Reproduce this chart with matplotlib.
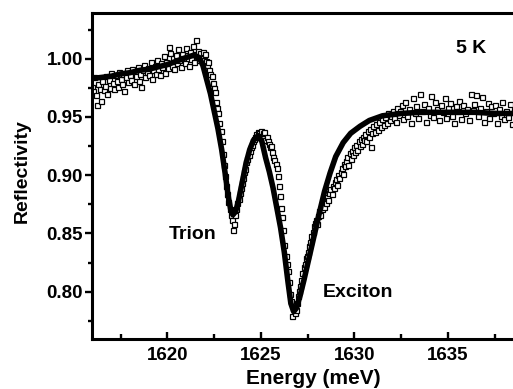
#!/usr/bin/env python3
import numpy as np
import matplotlib
matplotlib.use("Agg")
import matplotlib.pyplot as plt
from matplotlib.ticker import MultipleLocator, FormatStrFormatter

plt.rcParams['font.family'] = ['Liberation Sans', 'DejaVu Sans']
plt.rcParams['font.weight'] = 'bold'

# fitted curve
fit_energy = [
    1615.95, 1616.5, 1617.0, 1617.5, 1618.0, 1618.5, 1619.0, 1619.5, 1620.0, 1620.5,
    1621.0, 1621.4, 1621.7, 1621.9, 1622.1, 1622.3, 1622.5, 1622.7, 1622.9, 1623.1,
    1623.25, 1623.4, 1623.5, 1623.65, 1623.8, 1624.0, 1624.2, 1624.4, 1624.6, 1624.85,
    1625.05, 1625.25, 1625.45, 1625.65, 1625.85, 1626.05, 1626.25, 1626.45, 1626.6, 1626.75,
    1626.9, 1627.1, 1627.3, 1627.5, 1627.8, 1628.1, 1628.4, 1628.7, 1629.0, 1629.4,
    1629.8, 1630.3, 1630.8, 1631.5, 1632.5, 1633.5, 1634.5, 1635.5, 1636.5, 1637.5,
    1638.6, 1639.5,
]
fit_refl = [
    0.983, 0.984, 0.985, 0.987, 0.988, 0.990, 0.991, 0.993, 0.995, 0.998,
    1.001, 1.003, 1.001, 0.994, 0.982, 0.970, 0.955, 0.940, 0.922, 0.900,
    0.882, 0.869, 0.866, 0.869, 0.878, 0.894, 0.910, 0.922, 0.930, 0.934,
    0.929, 0.915, 0.903, 0.889, 0.872, 0.855, 0.834, 0.808, 0.790, 0.783,
    0.786, 0.797, 0.810, 0.824, 0.845, 0.866, 0.886, 0.902, 0.916, 0.928,
    0.936, 0.942, 0.947, 0.951, 0.953, 0.954, 0.954, 0.954, 0.954, 0.953,
    0.953, 0.953,
]

# measured points (open squares)
energy_data = [
    # flat part below the trion
    1615.95, 1616.02, 1616.09, 1616.16, 1616.23, 1616.30, 1616.37, 1616.44, 1616.51, 1616.58,
    1616.65, 1616.72, 1616.79, 1616.86, 1616.93, 1617.00, 1617.07, 1617.14, 1617.21, 1617.28,
    1617.35, 1617.42, 1617.49, 1617.56, 1617.63, 1617.70, 1617.77, 1617.84, 1617.91, 1617.98,
    1618.05, 1618.12, 1618.19, 1618.26, 1618.33, 1618.40, 1618.47, 1618.54, 1618.61, 1618.68,
    1618.75, 1618.82, 1618.89, 1618.96, 1619.03, 1619.10, 1619.17, 1619.24, 1619.31, 1619.38,
    1619.45, 1619.52, 1619.59, 1619.66, 1619.73, 1619.80, 1619.87, 1619.94, 1620.01, 1620.08,
    1620.15, 1620.22, 1620.29, 1620.36, 1620.43, 1620.50, 1620.57, 1620.64, 1620.71, 1620.78,
    1620.85, 1620.92, 1620.99, 1621.06, 1621.13, 1621.20, 1621.27, 1621.34, 1621.41, 1621.48,
    # trion dip, falling side
    1621.52, 1621.58, 1621.64, 1621.70, 1621.76, 1621.82, 1621.88, 1621.94, 1622.00, 1622.06,
    1622.12, 1622.18, 1622.24, 1622.30, 1622.36, 1622.42, 1622.48, 1622.54, 1622.60, 1622.66,
    1622.72, 1622.78, 1622.84, 1622.90, 1622.96, 1623.02, 1623.08, 1623.14, 1623.20, 1623.26,
    1623.32, 1623.38, 1623.44, 1623.50,
    # trion, rising side
    1623.56, 1623.62, 1623.68, 1623.74, 1623.80, 1623.86, 1623.92, 1623.98, 1624.04, 1624.10,
    1624.16, 1624.22, 1624.28, 1624.34, 1624.40, 1624.46, 1624.52, 1624.58, 1624.64, 1624.70,
    1624.76, 1624.82, 1624.88,
    # exciton, falling side
    1624.94, 1625.00, 1625.06, 1625.12, 1625.18, 1625.24, 1625.30, 1625.36, 1625.42, 1625.48,
    1625.54, 1625.60, 1625.66, 1625.72, 1625.78, 1625.84, 1625.90, 1625.96, 1626.02, 1626.08,
    1626.14, 1626.20, 1626.26, 1626.32, 1626.38, 1626.44, 1626.50, 1626.56, 1626.62, 1626.68,
    1626.74, 1626.80, 1626.86,
    # exciton, rising side
    1626.92, 1626.98, 1627.04, 1627.10, 1627.16, 1627.22, 1627.28, 1627.34, 1627.40, 1627.46,
    1627.52, 1627.58, 1627.64, 1627.70, 1627.76, 1627.82, 1627.88, 1627.94, 1628.00, 1628.06,
    1628.12, 1628.18, 1628.24, 1628.30, 1628.36, 1628.42, 1628.48, 1628.54, 1628.60, 1628.66,
    1628.72, 1628.78, 1628.84, 1628.90, 1628.96, 1629.02, 1629.08, 1629.14, 1629.20, 1629.26,
    1629.32, 1629.38, 1629.44, 1629.50,
    # knee
    1629.56, 1629.62, 1629.68, 1629.74, 1629.80, 1629.86, 1629.92, 1629.98, 1630.04, 1630.10,
    1630.16, 1630.22, 1630.28, 1630.34, 1630.40, 1630.46, 1630.52, 1630.58, 1630.64, 1630.70,
    1630.76, 1630.82, 1630.88, 1630.94, 1631.00, 1631.08, 1631.16, 1631.24, 1631.32, 1631.40,
    1631.48, 1631.56, 1631.64, 1631.72, 1631.80, 1631.88, 1631.96, 1632.04, 1632.12, 1632.20,
    1632.28, 1632.36, 1632.44,
    # flat part above the exciton
    1632.52, 1632.62, 1632.72, 1632.82, 1632.92, 1633.02, 1633.12, 1633.22, 1633.32, 1633.42,
    1633.52, 1633.62, 1633.72, 1633.82, 1633.92, 1634.02, 1634.12, 1634.22, 1634.32, 1634.42,
    1634.52, 1634.62, 1634.72, 1634.82, 1634.92, 1635.02, 1635.12, 1635.22, 1635.32, 1635.42,
    1635.52, 1635.62, 1635.72, 1635.82, 1635.92, 1636.02, 1636.12, 1636.22, 1636.32, 1636.42,
    1636.52, 1636.62, 1636.72, 1636.82, 1636.92, 1637.02, 1637.12, 1637.22, 1637.32, 1637.42,
    1637.52, 1637.62, 1637.72, 1637.82, 1637.92, 1638.02, 1638.12, 1638.22, 1638.32, 1638.42,
    1638.52,
]
refl_data = [
    0.976, 0.972, 0.984, 0.969, 0.960, 0.978, 0.974, 0.964, 0.981, 0.973,
    0.977, 0.985, 0.970, 0.982, 0.975, 0.988, 0.979, 0.974, 0.986, 0.981,
    0.976, 0.989, 0.983, 0.978, 0.987, 0.972, 0.984, 0.990, 0.980, 0.986,
    0.982, 0.991, 0.978, 0.988, 0.985, 0.993, 0.981, 0.987, 0.976, 0.990,
    0.995, 0.984, 0.989, 0.992, 0.986, 0.997, 0.983, 0.990, 0.994, 0.987,
    0.999, 0.991, 0.986, 0.996, 0.993, 1.002, 0.988, 0.997, 0.992, 1.010,
    1.005, 0.994, 1.001, 0.991, 1.003, 0.996, 1.008, 0.999, 0.993, 1.004,
    1.001, 0.996, 1.009, 1.003, 0.994, 1.006, 1.000, 1.011, 0.997, 1.004,

    1.016, 1.002, 1.007, 0.999, 1.005, 1.001, 1.006, 0.999, 1.004, 0.998,
    0.995, 0.997, 0.990, 0.987, 0.985, 0.979, 0.975, 0.971, 0.963, 0.958,
    0.953, 0.945, 0.938, 0.929, 0.918, 0.909, 0.899, 0.891, 0.884, 0.877,
    0.871, 0.866, 0.862, 0.853,

    0.858, 0.866, 0.871, 0.876, 0.880, 0.885, 0.889, 0.893, 0.898, 0.903,
    0.905, 0.911, 0.914, 0.917, 0.921, 0.924, 0.926, 0.929, 0.931, 0.933,
    0.935, 0.937, 0.936,

    0.934, 0.938, 0.932, 0.936, 0.937, 0.930, 0.933, 0.929, 0.927, 0.924,
    0.925, 0.920, 0.916, 0.913, 0.910, 0.906, 0.899, 0.891, 0.882, 0.872,
    0.864, 0.853, 0.840, 0.831, 0.824, 0.818, 0.808, 0.798, 0.792, 0.779,
    0.786, 0.782, 0.784,

    0.790, 0.796, 0.801, 0.805, 0.810, 0.816, 0.821, 0.824, 0.829, 0.831,
    0.834, 0.839, 0.843, 0.848, 0.851, 0.856, 0.859, 0.862, 0.858, 0.865,
    0.869, 0.866, 0.871, 0.874, 0.873, 0.878, 0.876, 0.881, 0.879, 0.885,
    0.888, 0.884, 0.891, 0.889, 0.894, 0.897, 0.892, 0.900, 0.898, 0.903,
    0.906, 0.901, 0.910, 0.908,

    0.912, 0.916, 0.909, 0.919, 0.914, 0.921, 0.917, 0.924, 0.920, 0.926,
    0.922, 0.929, 0.925, 0.931, 0.927, 0.933, 0.930, 0.935, 0.929, 0.938,
    0.933, 0.940, 0.924, 0.936, 0.942, 0.937, 0.944, 0.939, 0.946, 0.941,
    0.948, 0.943, 0.950, 0.945, 0.953, 0.947, 0.951, 0.955, 0.949, 0.946,
    0.958, 0.952, 0.955,

    0.960, 0.948, 0.963, 0.951, 0.957, 0.945, 0.966, 0.953, 0.959, 0.949,
    0.970, 0.955, 0.961, 0.946, 0.958, 0.952, 0.968, 0.950, 0.963, 0.957,
    0.947, 0.960, 0.954, 0.966, 0.949, 0.958, 0.962, 0.951, 0.945, 0.959,
    0.955, 0.964, 0.948, 0.960, 0.953, 0.957, 0.947, 0.970, 0.956, 0.961,
    0.969, 0.951, 0.958, 0.967, 0.946, 0.955, 0.962, 0.949, 0.959, 0.953,
    0.960, 0.945, 0.957, 0.951, 0.963, 0.948, 0.955, 0.950, 0.961, 0.944,
    0.956,
]
assert len(energy_data) == len(refl_data)

x_ticks = [1620, 1625, 1630, 1635]
y_ticks = [0.80, 0.85, 0.90, 0.95, 1.00]

fig = plt.figure(figsize=(5.13, 3.89), dpi=100)
# the right spine lies beyond the picture edge, as in the original
ax = fig.add_axes([0.1803, 0.1293, 0.875, 0.836])

ax.plot(energy_data, refl_data, linestyle="none", marker="s", markersize=3.6,
        markerfacecolor="white", markeredgecolor="black", markeredgewidth=0.9)
ax.plot(fit_energy, fit_refl, color="black", lw=4, solid_joinstyle="round")

ax.set_xlim(1615.99, 1640.0)
ax.set_ylim(0.7597, 1.0388)
ax.set_xticks(x_ticks)
ax.set_yticks(y_ticks)
ax.xaxis.set_minor_locator(MultipleLocator(2.5))
ax.yaxis.set_minor_locator(MultipleLocator(0.025))
ax.yaxis.set_major_formatter(FormatStrFormatter("%.2f"))

for s in ax.spines.values():
    s.set_linewidth(2.2)

ax.tick_params(axis="x", which="major", direction="in", length=5, width=1.7,
               labelsize=13.5, pad=6)
ax.tick_params(axis="x", which="minor", direction="in", length=3.5, width=1.7)
ax.tick_params(axis="y", which="major", direction="out", length=5, width=1.7,
               labelsize=13.5, pad=2)
ax.tick_params(axis="y", which="minor", direction="out", length=3, width=1.7)

ax.text(1621.37, 0.8488, "Trion", fontsize=14, fontweight="bold", ha="center", va="center")
ax.text(1630.17, 0.799, "Exciton", fontsize=14, fontweight="bold", ha="center", va="center")
ax.text(1636.26, 1.009, "5 K", fontsize=14, fontweight="bold", ha="center", va="center")

fig.text(22 / 513, 1 - 171 / 389, "Reflectivity", rotation=90, fontsize=14,
         fontweight="bold", ha="center", va="center")
fig.text(313.5 / 513, 1 - 384 / 389, "Energy (meV)", fontsize=15,
         fontweight="bold", ha="center", va="baseline")

fig.savefig("out.png", dpi=100)
